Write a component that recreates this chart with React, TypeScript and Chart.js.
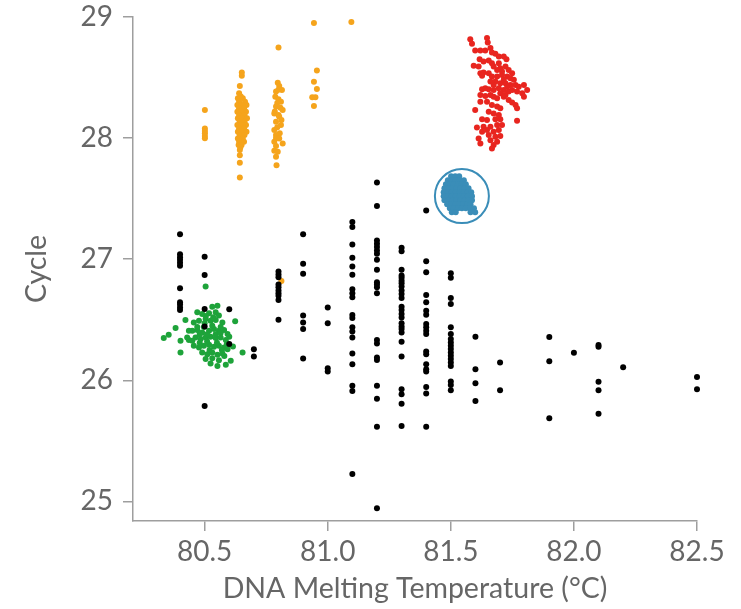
import { useEffect, useRef } from "react";
import { Chart, registerables } from "chart.js";

Chart.register(...registerables);

const xTicks = [80.5, 81.0, 81.5, 82.0, 82.5];
const yTicks = [25, 26, 27, 28, 29];

const blackTemps = [80.4, 80.5, 80.6, 80.7, 80.8, 80.9, 81.0, 81.1, 81.2, 81.3, 81.4, 81.5, 81.6, 81.7, 81.9, 82.0, 82.1, 82.2, 82.5];
const blackCycles = [
  [27.205, 27.04, 27.017, 26.995, 26.97, 26.945, 26.76, 26.644, 26.625, 26.602, 26.58],
  [27.02, 26.87, 26.589, 26.445, 25.787],
  [26.587, 26.3],
  [26.257, 26.196],
  [26.898, 26.873, 26.851, 26.79, 26.768, 26.741, 26.718, 26.699, 26.664, 26.5],
  [27.205, 26.962, 26.879, 26.534, 26.478, 26.423, 26.18],
  [26.602, 26.47, 26.1, 26.072],
  [27.307, 27.265, 27.122, 27.012, 26.94, 26.871, 26.751, 26.718, 26.685, 26.539, 26.514, 26.437, 26.403, 26.354, 26.221, 26.133, 25.954, 25.912, 25.226],
  [27.633, 27.439, 27.155, 27.128, 27.1, 27.072, 27.045, 26.995, 26.912, 26.809, 26.79, 26.768, 26.718, 26.332, 26.304, 26.188, 26.167, 25.954, 25.848, 25.616, 24.943],
  [27.094, 27.066, 26.912, 26.865, 26.846, 26.823, 26.801, 26.774, 26.741, 26.713, 26.68, 26.608, 26.581, 26.548, 26.519, 26.47, 26.445, 26.423, 26.395, 26.318, 26.196, 25.926, 25.885, 25.807, 25.622],
  [27.403, 26.983, 26.892, 26.705, 26.644, 26.575, 26.542, 26.465, 26.437, 26.409, 26.382, 26.238, 26.216, 26.133, 26.092, 26.072, 25.945, 25.89, 25.616],
  [26.884, 26.846, 26.68, 26.63, 26.437, 26.382, 26.341, 26.313, 26.286, 26.258, 26.23, 26.202, 26.175, 26.147, 26.119, 25.989, 25.962, 25.918],
  [26.36, 26.092, 25.976, 25.829],
  [26.147, 25.918],
  [26.357, 26.158, 25.686],
  [26.227],
  [26.291, 26.277, 25.987, 25.918, 25.724],
  [26.108],
  [26.028, 25.926],
];

const orangePoints: [number, number][] = [
  [80.501, 28.232], [80.501, 28.08], [80.501, 28.058], [80.501, 28.039], [80.501, 28.017], [80.501, 27.998],
  [80.651, 28.541], [80.651, 28.514], [80.643, 28.431], [80.64, 28.37], [80.647, 28.343],
  [80.635, 28.329], [80.655, 28.329], [80.64, 28.301], [80.664, 28.301],
  [80.633, 28.274], [80.65, 28.274], [80.67, 28.274], [80.64, 28.246], [80.66, 28.246],
  [80.633, 28.218], [80.648, 28.218], [80.668, 28.218], [80.64, 28.191], [80.662, 28.191],
  [80.635, 28.163], [80.652, 28.163], [80.672, 28.163], [80.642, 28.135], [80.662, 28.135],
  [80.633, 28.108], [80.65, 28.108], [80.668, 28.108], [80.64, 28.08], [80.66, 28.08],
  [80.635, 28.052], [80.652, 28.052], [80.67, 28.052], [80.642, 28.025], [80.662, 28.025],
  [80.635, 27.997], [80.655, 27.997], [80.64, 27.97], [80.66, 27.97], [80.638, 27.942],
  [80.65, 27.942], [80.645, 27.923],
  [80.643, 27.901], [80.643, 27.859], [80.643, 27.796], [80.643, 27.674],
  [80.8, 28.748], [80.797, 28.458], [80.803, 28.431], [80.814, 28.398], [80.79, 28.384],
  [80.8, 28.4], [80.787, 28.342], [80.8, 28.32], [80.81, 28.301], [80.795, 28.29],
  [80.79, 28.26], [80.808, 28.25], [80.817, 28.232], [80.785, 28.22], [80.783, 28.204],
  [80.8, 28.19], [80.803, 28.177], [80.812, 28.15], [80.79, 28.135], [80.81, 28.108],
  [80.795, 28.09], [80.783, 28.066], [80.805, 28.04], [80.79, 28.025], [80.79, 28.0],
  [80.803, 27.997], [80.783, 27.97], [80.817, 27.956], [80.79, 27.934], [80.783, 27.895],
  [80.797, 27.887], [80.79, 27.845], [80.792, 27.776],
  [80.944, 28.95], [80.956, 28.558], [80.944, 28.466], [80.956, 28.406], [80.937, 28.337],
  [80.95, 28.337], [80.944, 28.265], [81.096, 28.959], [80.812, 26.82],
];

const redPoints: [number, number][] = [
  [81.579, 28.817], [81.586, 28.779], [81.647, 28.826], [81.65, 28.79], [81.599, 28.724],
  [81.62, 28.724], [81.64, 28.724], [81.661, 28.743], [81.667, 28.707], [81.681, 28.696],
  [81.695, 28.674], [81.715, 28.674], [81.726, 28.652], [81.617, 28.652], [81.633, 28.632],
  [81.654, 28.641], [81.667, 28.619], [81.674, 28.591], [81.695, 28.619], [81.701, 28.577],
  [81.722, 28.591], [81.735, 28.563], [81.749, 28.536], [81.593, 28.597], [81.613, 28.591],
  [81.62, 28.536], [81.633, 28.541], [81.627, 28.514], [81.654, 28.536], [81.667, 28.508],
  [81.688, 28.508], [81.708, 28.522], [81.729, 28.508], [81.742, 28.494], [81.756, 28.481],
  [81.661, 28.467], [81.681, 28.467], [81.701, 28.453], [81.722, 28.453], [81.742, 28.439],
  [81.763, 28.439], [81.776, 28.425], [81.797, 28.439], [81.81, 28.398], [81.79, 28.37],
  [81.769, 28.384], [81.627, 28.403], [81.64, 28.412], [81.654, 28.403], [81.674, 28.398],
  [81.695, 28.412], [81.715, 28.398], [81.735, 28.384], [81.749, 28.398], [81.62, 28.356],
  [81.64, 28.348], [81.661, 28.356], [81.688, 28.329], [81.715, 28.342], [81.735, 28.315],
  [81.749, 28.293], [81.763, 28.273], [81.769, 28.246], [81.797, 28.342], [81.62, 28.301],
  [81.647, 28.301], [81.667, 28.273], [81.688, 28.26], [81.701, 28.246], [81.599, 28.232],
  [81.654, 28.218], [81.674, 28.204], [81.695, 28.191], [81.627, 28.155], [81.647, 28.149],
  [81.681, 28.155], [81.701, 28.155], [81.769, 28.144], [81.606, 28.088], [81.633, 28.094],
  [81.661, 28.094], [81.688, 28.108], [81.708, 28.108], [81.627, 28.052], [81.647, 28.066],
  [81.674, 28.052], [81.695, 28.066], [81.654, 28.025], [81.681, 28.011], [81.701, 28.017],
  [81.613, 27.997], [81.661, 27.983], [81.688, 27.97], [81.62, 27.956], [81.674, 27.942],
  [81.667, 27.914], [81.688, 28.563], [81.708, 28.55], [81.715, 28.481], [81.674, 28.439],
  [81.729, 28.425], [81.701, 28.37], [81.722, 28.356], [81.674, 28.342],
];

const greenPoints: [number, number][] = [
  [80.504, 26.774], [80.552, 26.616], [80.531, 26.608], [80.422, 26.498], [80.624, 26.487],
  [80.382, 26.431], [80.354, 26.376], [80.334, 26.349], [80.402, 26.326], [80.436, 26.332],
  [80.402, 26.23], [80.654, 26.23], [80.524, 26.139], [80.552, 26.119], [80.586, 26.128],
  [80.606, 26.161],
  [80.47, 26.561], [80.49, 26.547], [80.518, 26.553], [80.545, 26.561], [80.558, 26.534],
  [80.456, 26.478], [80.477, 26.492], [80.504, 26.506], [80.524, 26.492], [80.545, 26.498],
  [80.572, 26.478], [80.45, 26.409], [80.47, 26.415], [80.49, 26.395], [80.518, 26.409],
  [80.538, 26.423], [80.558, 26.409], [80.579, 26.415], [80.593, 26.382], [80.463, 26.354],
  [80.484, 26.34], [80.504, 26.354], [80.524, 26.36], [80.545, 26.349], [80.565, 26.354],
  [80.586, 26.332], [80.456, 26.285], [80.477, 26.271], [80.497, 26.285], [80.518, 26.293],
  [80.538, 26.277], [80.558, 26.285], [80.579, 26.271], [80.593, 26.257], [80.49, 26.23],
  [80.511, 26.216], [80.531, 26.23], [80.552, 26.21], [80.572, 26.221], [80.504, 26.175],
  [80.531, 26.183], [80.558, 26.166], [80.436, 26.409], [80.45, 26.326], [80.429, 26.354],
  [80.497, 26.44], [80.531, 26.45], [80.565, 26.44], [80.51, 26.32], [80.55, 26.31],
  [80.48, 26.31], [80.59, 26.3], [80.52, 26.25], [80.57, 26.25], [80.47, 26.44],
  [80.5, 26.47], [80.545, 26.38], [80.51, 26.38], [80.48, 26.38], [80.565, 26.39],
  [80.535, 26.52], [80.505, 26.53], [80.6, 26.36], [80.615, 26.28], [80.58, 26.2],
];

const bluePoints: [number, number][] = [
  [81.501, 27.685], [81.518, 27.685], [81.534, 27.685],
  [81.488, 27.652], [81.504, 27.652], [81.52, 27.652], [81.537, 27.652], [81.553, 27.652],
  [81.48, 27.619], [81.496, 27.619], [81.512, 27.619], [81.529, 27.619], [81.545, 27.619], [81.561, 27.619],
  [81.474, 27.586], [81.49, 27.586], [81.507, 27.586], [81.523, 27.586], [81.539, 27.586], [81.556, 27.586], [81.572, 27.586],
  [81.471, 27.553], [81.488, 27.553], [81.504, 27.553], [81.52, 27.553], [81.537, 27.553], [81.553, 27.553], [81.569, 27.553], [81.583, 27.553],
  [81.471, 27.519], [81.488, 27.519], [81.504, 27.519], [81.52, 27.519], [81.537, 27.519], [81.553, 27.519], [81.569, 27.519], [81.586, 27.519],
  [81.474, 27.486], [81.49, 27.486], [81.507, 27.486], [81.523, 27.486], [81.539, 27.486], [81.556, 27.486], [81.572, 27.486], [81.586, 27.486],
  [81.485, 27.453], [81.501, 27.453], [81.518, 27.453], [81.534, 27.453], [81.55, 27.453], [81.567, 27.453], [81.58, 27.453],
  [81.496, 27.42], [81.512, 27.42], [81.529, 27.42], [81.545, 27.42], [81.561, 27.42], [81.578, 27.42], [81.594, 27.42],
  [81.504, 27.387], [81.52, 27.387], [81.58, 27.387], [81.599, 27.387],
];

const circleCenter: [number, number] = [81.545, 27.521];

const toXY = (pts: [number, number][]) => pts.map(([x, y]) => ({ x, y }));

export default function App() {
  const ref = useRef<HTMLCanvasElement | null>(null);

  useEffect(() => {
    if (!ref.current) return;
    const black: { x: number; y: number }[] = [];
    blackTemps.forEach((t, i) => blackCycles[i].forEach((c) => black.push({ x: t, y: c })));

    const axisColor = "#9e9e9e";
    const textColor = "#666666";
    const tickFont = { family: "Lato", size: 28 };
    const titleFont = { family: "Lato", size: 28.5 };

    const pointDs = (data: any[], color: string) => ({
      data,
      backgroundColor: color,
      borderWidth: 0,
      pointRadius: 3,
      pointHoverRadius: 3,
      clip: false as const,
    });

    const chart = new Chart(ref.current, {
      type: "scatter",
      data: {
        datasets: [
          pointDs(black, "#000000"),
          {
            data: [{ x: circleCenter[0], y: circleCenter[1] }],
            backgroundColor: "rgba(0,0,0,0)",
            borderColor: "#3a8db8",
            borderWidth: 2,
            pointRadius: 27,
            pointHoverRadius: 27,
            clip: false as const,
          },
          pointDs(toXY(bluePoints), "#3a8db8"),
          pointDs(toXY(redPoints), "#e8251f"),
          pointDs(toXY(orangePoints), "#f5a41c"),
          pointDs(toXY(greenPoints), "#1ea33a"),
        ],
      },
      options: {
        animation: false,
        responsive: false,
        maintainAspectRatio: false,
        layout: { autoPadding: false, padding: { top: 17, right: 44, left: 0, bottom: 0 } },
        plugins: { legend: { display: false }, tooltip: { enabled: false } },
        scales: {
          x: {
            type: "linear",
            min: 80.209,
            max: 82.5,
            afterBuildTicks: (axis: any) => {
              axis.ticks = xTicks.map((v) => ({ value: v }));
            },
            afterFit: (axis: any) => {
              axis.height = 88;
              axis.paddingLeft = 0;
              axis.paddingRight = 0;
            },
            grid: { drawOnChartArea: false, drawTicks: true, tickLength: 10, color: axisColor, lineWidth: 1.5 },
            border: { display: true, color: axisColor, width: 1.5 },
            ticks: {
              color: textColor,
              font: tickFont,
              padding: 4,
              maxRotation: 0,
              callback: (v: any) => Number(v).toFixed(1),
            },
            title: {
              display: true,
              text: "DNA Melting Temperature (°C)",
              color: textColor,
              font: titleFont,
              padding: { top: 0, bottom: 3 },
            },
          },
          y: {
            type: "linear",
            min: 24.838,
            max: 29,
            afterBuildTicks: (axis: any) => {
              axis.ticks = yTicks.map((v) => ({ value: v }));
            },
            afterFit: (axis: any) => {
              axis.width = 133;
              axis.paddingTop = 0;
              axis.paddingBottom = 0;
            },
            grid: { drawOnChartArea: false, drawTicks: true, tickLength: 10, color: axisColor, lineWidth: 1.5 },
            border: { display: true, color: axisColor, width: 1.5 },
            ticks: {
              color: textColor,
              font: tickFont,
              padding: 10,
              callback: (v: any) => String(v),
            },
            title: {
              display: true,
              text: "Cycle",
              color: textColor,
              font: titleFont,
              padding: { top: 20, bottom: 0 },
            },
          },
        },
      },
    });
    return () => chart.destroy();
  }, []);

  return (
    <div style={{ position: "absolute", left: 0, top: 0, width: 741, height: 609 }}>
      <canvas ref={ref} width={741} height={609} style={{ width: 741, height: 609 }} />
    </div>
  );
}
